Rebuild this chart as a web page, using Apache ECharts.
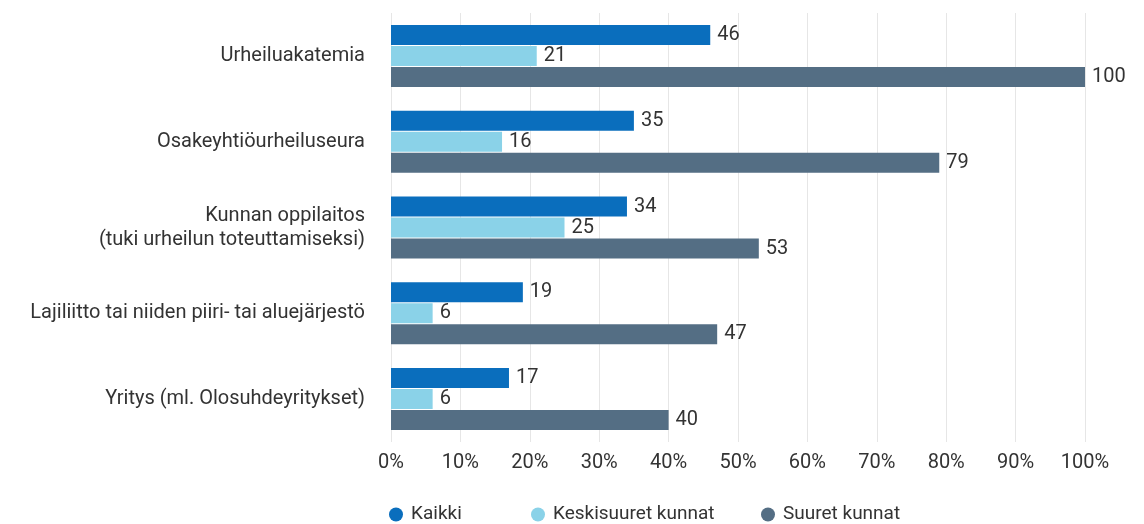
<!DOCTYPE html>
<html>
<head>
<meta charset="utf-8">
<script src="https://cdn.jsdelivr.net/npm/echarts@6/dist/echarts.min.js"></script>
<style>
  html, body { margin: 0; padding: 0; background: #fff; }
  #main { width: 1144px; height: 524px; }
</style>
</head>
<body>
<div id="main"></div>
<script>
const categories = [
  'Urheiluakatemia',
  'Osakeyhtiöurheiluseura',
  'Kunnan oppilaitos\n(tuki urheilun toteuttamiseksi)',
  'Lajiliitto tai niiden piiri- tai aluejärjestö',
  'Yritys (ml. Olosuhdeyritykset)'
];
const kaikki = [46, 35, 34, 19, 17];
const keskisuuret = [21, 16, 25, 6, 6];
const suuret = [100, 79, 53, 47, 40];
const seriesNames = ['Kaikki', 'Keskisuuret kunnat', 'Suuret kunnat'];
const colors = ['#0a6ebd', '#8ad2e8', '#546e84'];
const legendLefts = [384, 526, 756];

const chart = echarts.init(document.getElementById('main'));
const textColor = '#333';
const font = 'Roboto';

function makeSeries(name, data, color) {
  return {
    name: name,
    type: 'bar',
    data: data,
    barWidth: 20,
    barGap: '5%',
    itemStyle: { color: color },
    label: {
      show: true,
      position: 'right',
      distance: 7,
      color: textColor,
      fontFamily: font,
      fontSize: 20
    }
  };
}

// one legend per item so each can sit where it is in the picture
const legends = seriesNames.map(function (name, i) {
  return {
    left: legendLefts[i],
    top: 500,
    icon: 'circle',
    itemWidth: 14,
    itemHeight: 14,
    itemGap: 0,
    textStyle: { color: textColor, fontFamily: font, fontSize: 19, padding: [0, 0, 0, 3] },
    data: [name]
  };
});

const option = {
  animation: false,
  color: colors,
  grid: { left: 391, right: 59, top: 13, bottom: 82 },
  legend: legends,
  xAxis: {
    type: 'value',
    min: 0,
    max: 100,
    interval: 10,
    axisLine: { show: false },
    axisTick: { show: false },
    splitLine: { lineStyle: { color: '#e6e6e6' } },
    axisLabel: {
      formatter: '{value}%',
      color: textColor,
      fontFamily: font,
      fontSize: 20,
      margin: 11
    }
  },
  yAxis: {
    type: 'category',
    inverse: true,
    data: categories,
    axisLine: { show: false },
    axisTick: { show: false },
    axisLabel: {
      color: textColor,
      fontFamily: font,
      fontSize: 20,
      margin: 26,
      lineHeight: 24,
      align: 'right'
    }
  },
  series: [
    makeSeries(seriesNames[0], kaikki, colors[0]),
    makeSeries(seriesNames[1], keskisuuret, colors[1]),
    makeSeries(seriesNames[2], suuret, colors[2])
  ]
};

chart.setOption(option);
</script>
</body>
</html>
